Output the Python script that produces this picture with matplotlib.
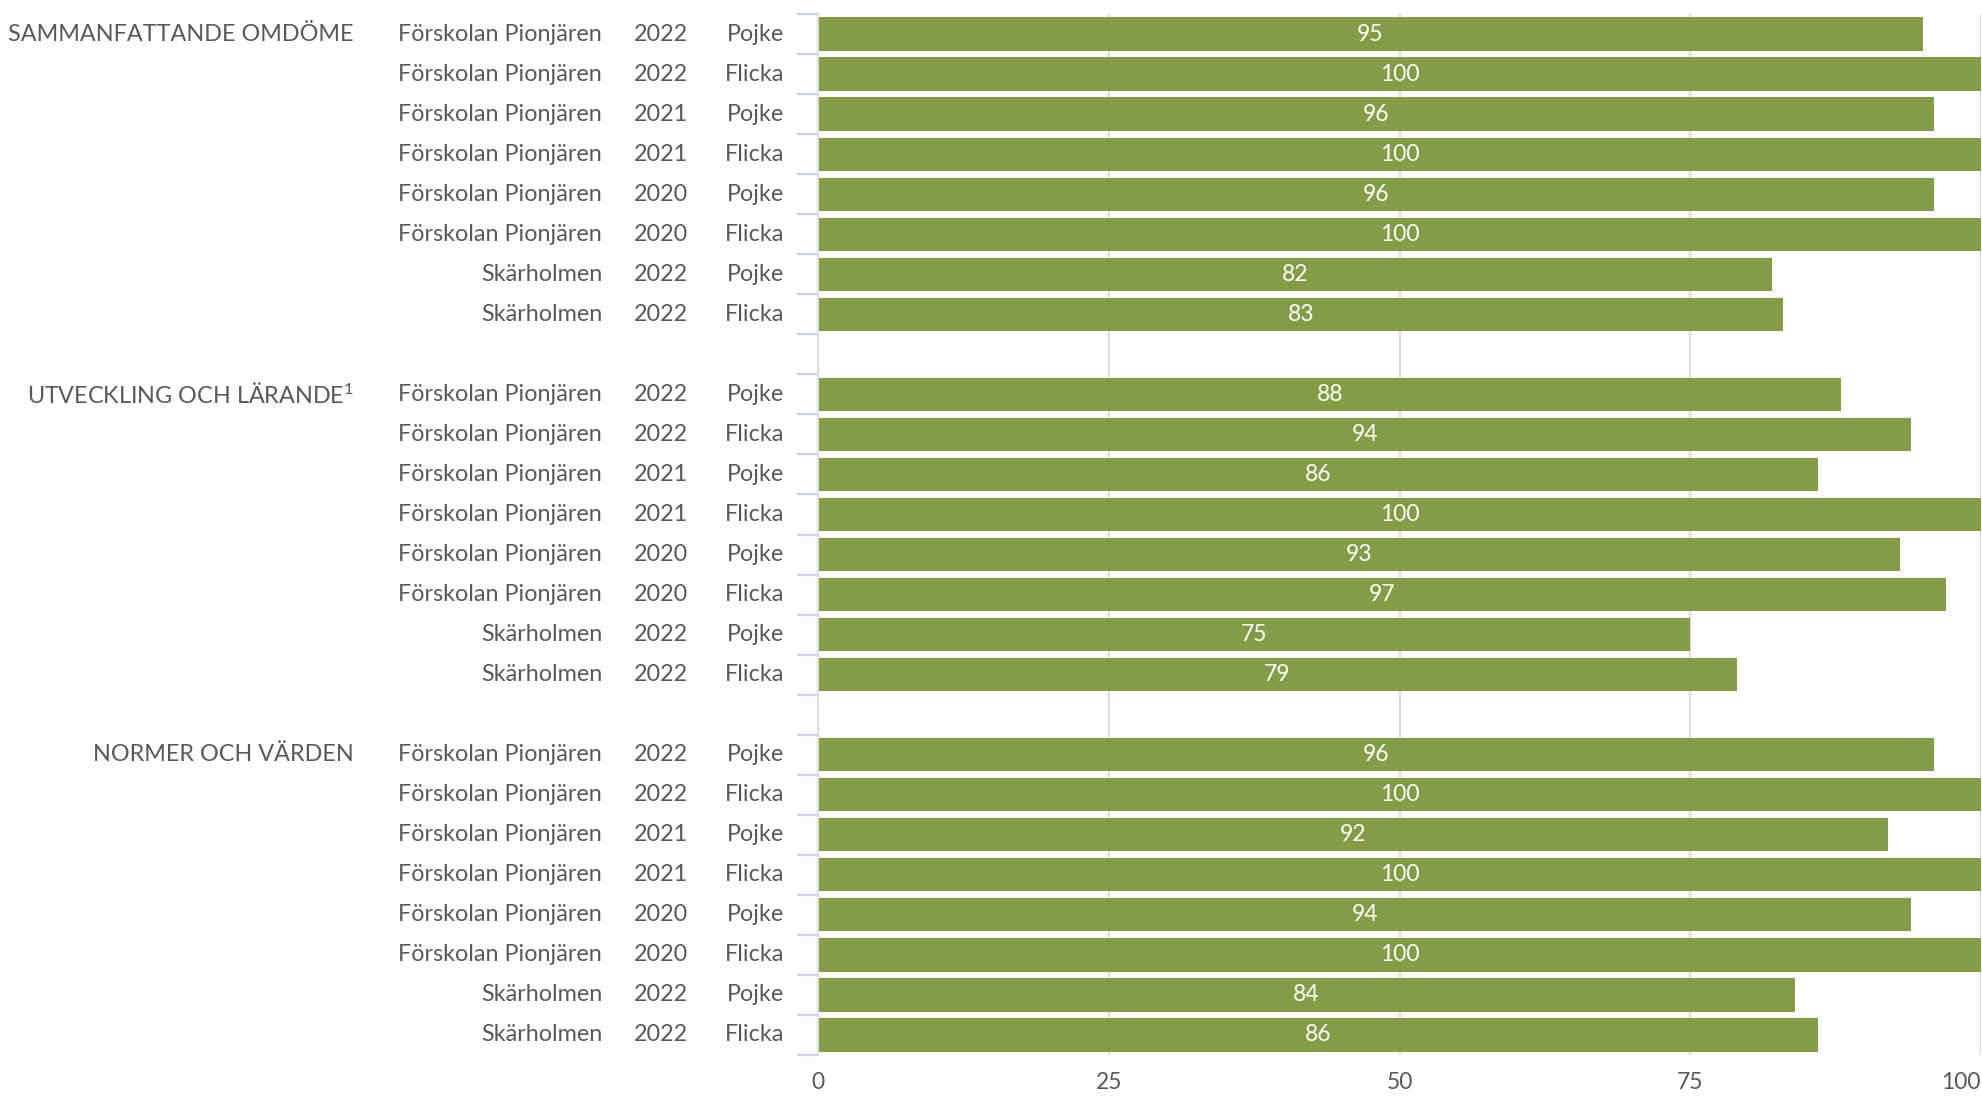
import numpy as np
import matplotlib
matplotlib.use('Agg')
import matplotlib.pyplot as plt
import matplotlib.transforms as mtransforms

plt.rcParams['font.family'] = ['Lato', 'DejaVu Sans']
plt.rcParams['mathtext.fontset'] = 'custom'
plt.rcParams['mathtext.rm'] = 'Lato'
plt.rcParams['mathtext.default'] = 'regular'

# data
groups = ['SAMMANFATTANDE OMDÖME', 'UTVECKLING OCH LÄRANDE$^{1}$', 'NORMER OCH VÄRDEN']
schools = ['Förskolan Pionjären'] * 6 + ['Skärholmen'] * 2
years = ['2022', '2022', '2021', '2021', '2020', '2020', '2022', '2022']
genders = ['Pojke', 'Flicka'] * 4
values_omdome = [95, 100, 96, 100, 96, 100, 82, 83]
values_utveckling = [88, 94, 86, 100, 93, 97, 75, 79]
values_normer = [96, 100, 92, 100, 94, 100, 84, 86]
all_values = [values_omdome, values_utveckling, values_normer]
xticks = [0, 25, 50, 75, 100]

BAR = '#829d45'
TXT = '#595959'
GRID = '#dcdcdc'
TICK = '#c8d0ea'
FS = 16.8

fig = plt.figure(figsize=(19.83, 10.98), dpi=100)
ax = fig.add_axes([818 / 1983, 1 - 1055 / 1098, 1163 / 1983, 1041 / 1098])

n_rows = len(groups) * 9 - 1
for g, vals in enumerate(all_values):
  ys = np.arange(8) + g * 9
  ax.barh(ys, vals, height=0.83, color=BAR, zorder=3)
  for y, v in zip(ys, vals):
    ax.text(v / 2, y, str(v), color='white', fontsize=16.5,
            ha='center', va='center', zorder=4)

ax.set_xlim(0, 100)
ax.set_ylim(n_rows - 0.5, -0.5)

# labels on the left
trans = mtransforms.blended_transform_factory(fig.transFigure, ax.transData)
for g, name in enumerate(groups):
  ax.text(354 / 1983, g * 9, name, transform=trans, ha='right', va='center',
          fontsize=FS, color=TXT)
  for i in range(8):
    y = g * 9 + i
    ax.text(602 / 1983, y, schools[i], transform=trans, ha='right',
            va='center', fontsize=FS, color=TXT)
    ax.text(688 / 1983, y, years[i], transform=trans, ha='right',
            va='center', fontsize=FS, color=TXT)
    ax.text(784 / 1983, y, genders[i], transform=trans, ha='right',
            va='center', fontsize=FS, color=TXT)

# axes styling
ax.set_yticks([])
ax.set_yticks(np.arange(-0.5, n_rows, 1.0), minor=True)
ax.tick_params(axis='y', which='minor', length=15, width=1.6, color=TICK,
               direction='out')
ax.set_xticks(xticks)
ax.set_xticklabels([str(t) for t in xticks])
ax.get_xticklabels()[-1].set_horizontalalignment('right')
ax.tick_params(axis='x', length=0, pad=12, labelsize=16.5, labelcolor=TXT)
ax.grid(axis='x', color=GRID, linewidth=1.6, zorder=0)
for s in ['top', 'right', 'bottom']:
  ax.spines[s].set_visible(False)
ax.spines['left'].set_color(GRID)
ax.spines['left'].set_linewidth(1.6)
ax.spines['left'].set_zorder(5)

fig.savefig('out.png', dpi=100)
